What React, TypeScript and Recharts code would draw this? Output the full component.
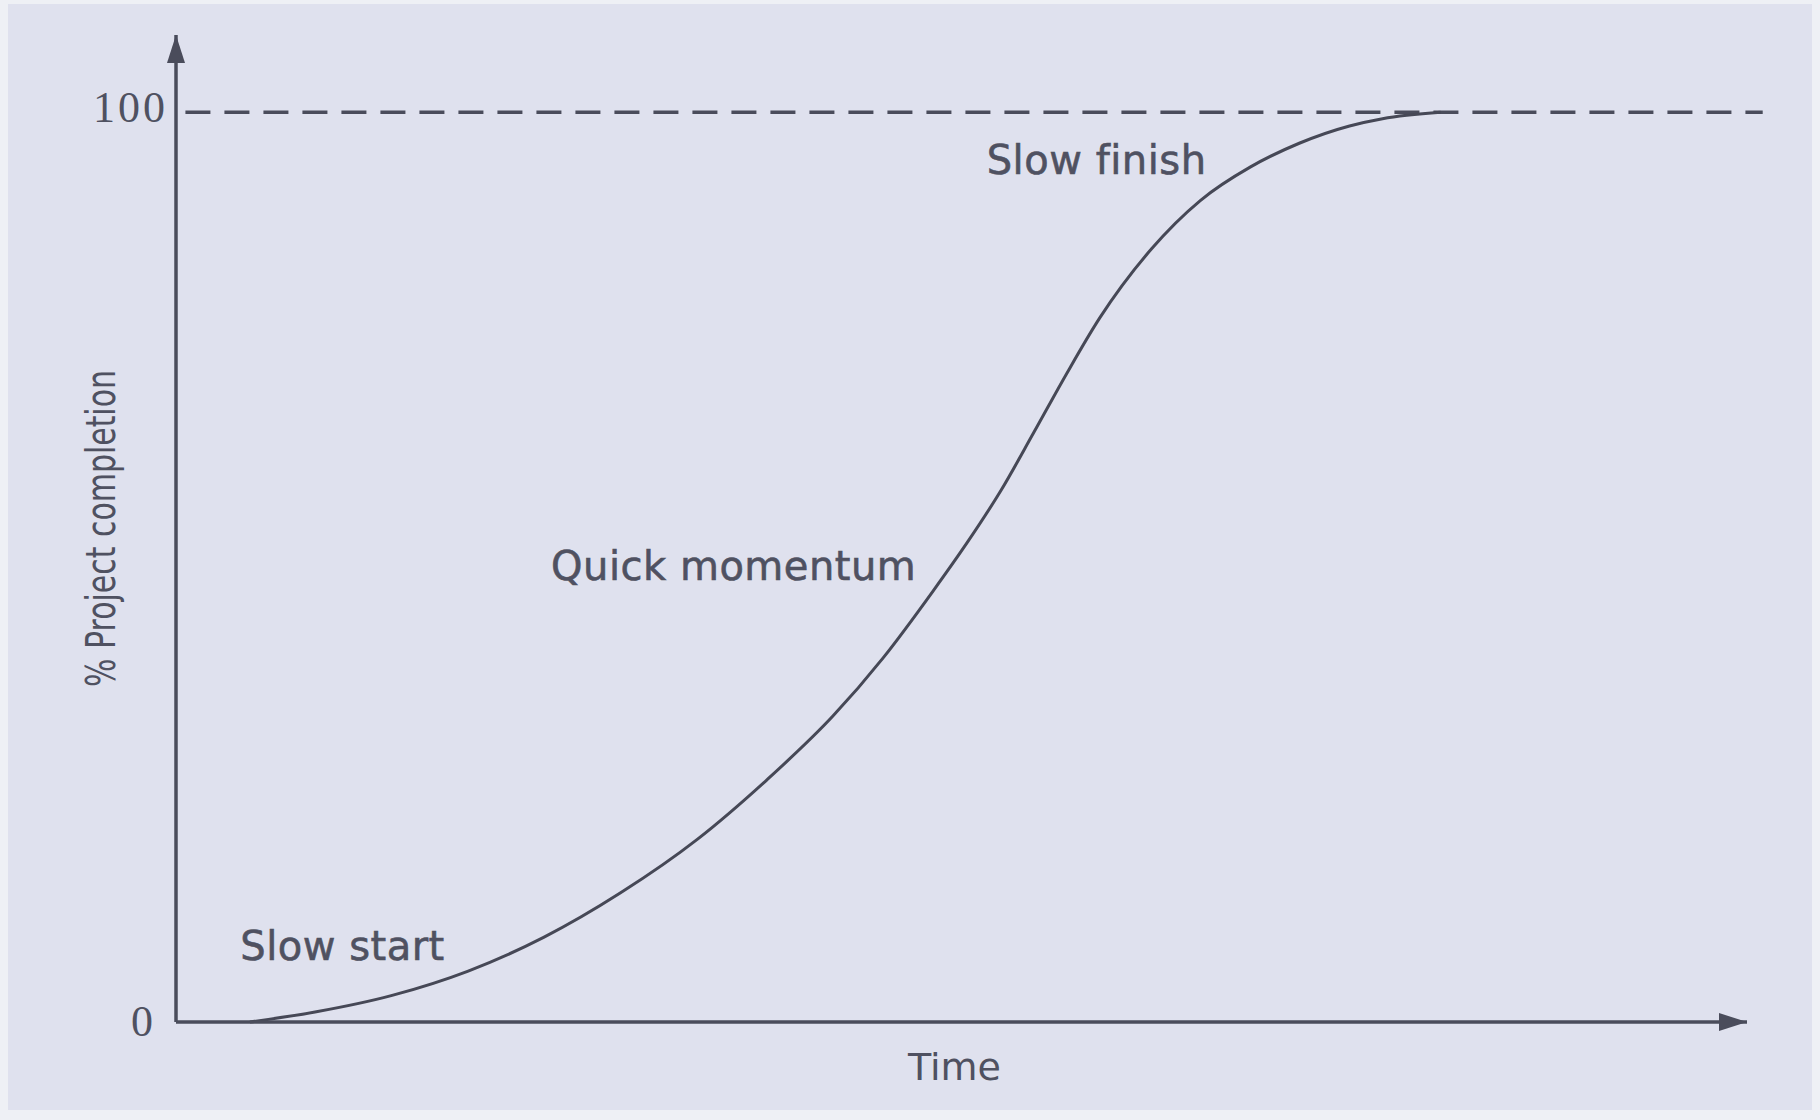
import React from 'react';
import { LineChart, Line, XAxis, YAxis, ReferenceLine, ReferenceDot } from 'recharts';

// Time (0..100 along the axis) vs % project completion
const timeValues = [4.7, 8.85, 13.7, 18.6, 23.4, 28.3, 33.2, 37.6, 41.8, 45.0, 48.2, 50.4, 52.5, 54.6, 56.7, 58.8, 62.1, 65.2, 68.4, 71.5, 74.7, 76.8, 80.5];
const completionValues = [0, 1.1, 2.9, 5.6, 9.3, 14.2, 20.1, 26.6, 33.6, 40.0, 47.4, 52.8, 58.4, 64.8, 71.3, 77.4, 85.0, 90.3, 94.0, 96.6, 98.5, 99.3, 100];
const yTicks = [0, 100];
const annotationTexts = ['Slow start', 'Quick momentum', 'Slow finish'];
const annotationX = [10.6, 35.5, 58.6];
const annotationY = [6.8, 48.6, 93.2];

const data = timeValues.map((t, i) => ({ time: t, completion: completionValues[i] }));

const INK = '#4a4c5b';
const TEXT = '#4f5161';

const YTick = (props: any) => {
  const { x, y, payload } = props;
  const shift = payload.value === 0 ? -15 : 0;
  return (
    <text
      x={x + shift}
      y={y}
      dy={payload.value === 0 ? 14 : 10}
      textAnchor="end"
      fontFamily="'Liberation Serif', 'DejaVu Serif', serif"
      fontSize={44}
      letterSpacing={payload.value === 0 ? 0 : 3}
      fill={TEXT}
    >
      {payload.value}
    </text>
  );
};

const YLabel = (props: any) => {
  const vb = props.viewBox || { x: 0, y: 35, width: 176, height: 987 };
  const bx = vb.x + 115;
  const cy = vb.y + vb.height / 2;
  return (
    <text
      x={bx}
      y={cy}
      transform={`rotate(-90, ${bx}, ${cy})`}
      textAnchor="middle"
      fontFamily="'DejaVu Sans', sans-serif"
      fontSize={40}
      textLength={317}
      lengthAdjust="spacingAndGlyphs"
      fill={TEXT}
    >
      % Project completion
    </text>
  );
};

const XLabel = (props: any) => {
  const vb = props.viewBox || { x: 176, y: 1022, width: 1571, height: 98 };
  return (
    <text
      x={vb.x + vb.width / 2 - 7}
      y={vb.y + 58}
      textAnchor="middle"
      fontFamily="'DejaVu Sans', sans-serif"
      fontSize={38}
      fill={TEXT}
    >
      Time
    </text>
  );
};

const makeAnnotation = (text: string) => (props: any) => (
  <text
    x={props.cx}
    y={props.cy}
    textAnchor="middle"
    fontFamily="'DejaVu Sans', sans-serif"
    fontSize={40}
    letterSpacing={0.5}
    fill={TEXT}
    stroke={TEXT}
    strokeWidth={0.6}
  >
    {text}
  </text>
);

export default function App() {
  return (
    <div style={{ position: 'absolute', left: 0, top: 0, width: 1820, height: 1120, background: '#eef0f5' }}>
      <div style={{ position: 'absolute', left: 8, top: 4, width: 1804, height: 1106, background: '#dfe1ee' }} />
      <div style={{ position: 'absolute', left: 0, top: 0 }}>
        <LineChart width={1820} height={1120} data={data} margin={{ top: 35, right: 73, bottom: 0, left: 0 }}>
          <defs>
            <marker id="arrowHead" viewBox="0 0 28 18" refX={28} refY={9} markerWidth={28} markerHeight={18} markerUnits="userSpaceOnUse" orient="auto-start-reverse">
              <path d="M0,0 L28,9 L0,18 z" fill={INK} />
            </marker>
          </defs>
          <XAxis
            dataKey="time"
            type="number"
            domain={[0, 100]}
            tick={false}
            tickLine={false}
            height={98}
            axisLine={{ stroke: INK, strokeWidth: 3.5, markerEnd: 'url(#arrowHead)' } as any}
            label={<XLabel />}
          />
          <YAxis
            type="number"
            domain={[0, 108.5]}
            ticks={yTicks}
            tick={<YTick />}
            tickLine={false}
            width={176}
            axisLine={{ stroke: INK, strokeWidth: 3.5, markerStart: 'url(#arrowHead)' } as any}
            label={<YLabel />}
          />
          <ReferenceLine
            segment={[{ x: 0.6, y: 100 }, { x: 101, y: 100 }]}
            ifOverflow="visible"
            stroke={INK}
            strokeWidth={3.5}
            strokeDasharray="25 14"
          />
          <Line
            type="monotone"
            dataKey="completion"
            stroke="#464856"
            strokeWidth={3}
            dot={false}
            activeDot={false}
            isAnimationActive={false}
          />
          {annotationTexts.map((t, i) => (
            <ReferenceDot
              key={t}
              x={annotationX[i]}
              y={annotationY[i]}
              r={0}
              ifOverflow="visible"
              shape={makeAnnotation(t)}
            />
          ))}
        </LineChart>
      </div>
    </div>
  );
}
